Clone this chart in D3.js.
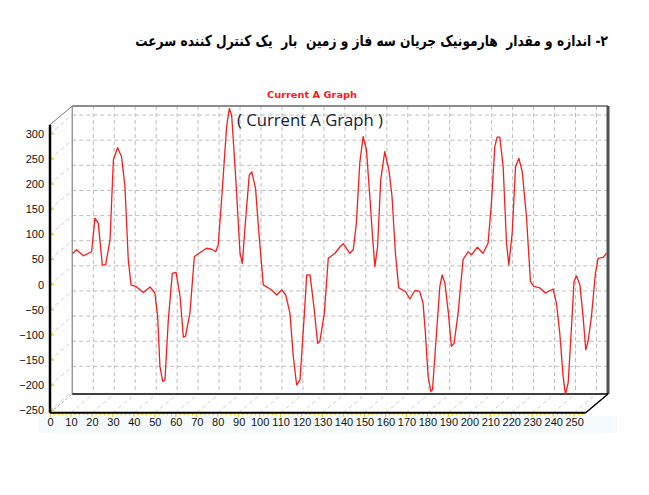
<!DOCTYPE html>
<html>
<head>
<meta charset="utf-8">
<script src="https://cdn.jsdelivr.net/npm/d3@7/dist/d3.min.js"></script>
<style>
  html, body { margin: 0; padding: 0; background: #ffffff; }
  svg { display: block; }
</style>
</head>
<body>
<svg id="chart" width="649" height="495"></svg>
<script>
// ---------- data ----------
const sampleIndex = [0, 2, 5.3, 9.2, 10.8, 12.4, 14.3, 15.9, 18, 19.6, 21.6, 23.5, 25.1, 26.7, 28, 30.7, 33.9, 37.1, 39.4, 40.7, 41.8, 43.1, 44.2, 45.8, 47.7, 49.5, 51.4, 53, 54, 56.1, 58.2, 60.1, 64, 66.5, 68.4, 69.6, 71.2, 73.6, 74.9, 76, 77.9, 80, 81.1, 82.4, 84.4, 85.6, 87.4, 89, 91.1, 95.1, 97.5, 99.9, 101.8, 103.8, 105.4, 107, 108.6, 110.7, 111.8, 113.4, 115.4, 117, 118.1, 120.2, 122.1, 125.3, 127.7, 129.2, 132.4, 134, 135.5, 137.1, 138.7, 140.3, 141.9, 143.2, 144.3, 145.6, 147.1, 149, 151, 152.5, 154.1, 155.7, 158.9, 161, 163.4, 165.7, 167.3, 168.4, 169.7, 171, 171.8, 173.7, 175.3, 176.4, 177.7, 179.3, 180.8, 182.1, 184, 186.4, 188.8, 190.4, 193.2, 195.9, 198.3, 199.9, 201.5, 202.6, 203.9, 205.5, 207.1, 208.2, 209.8, 211.4, 213, 214.6, 216.6, 218.5, 220.1, 223, 225.7, 229.3, 230.9, 232.5, 234.1, 235.2, 236.5, 238.1, 239.3, 240.5, 242.1, 243.6, 244.9, 246, 247.6, 249.5, 250.8, 253.2, 254.8];
const currentA = [24, 32, 20, 28, 95, 85, 2, 2, 52, 211, 235, 217, 158, 12, -38, -42, -53, -42, -54, -101, -200, -230, -227, -107, -15, -13, -61, -142, -140, -94, 18, 24, 35, 33, 28, 42, 131, 277, 313, 300, 178, 25, 5, 78, 181, 187, 154, 65, -38, -48, -58, -48, -58, -94, -180, -237, -227, -94, -18, -18, -87, -154, -150, -94, 15, 25, 38, 44, 25, 32, 85, 204, 257, 231, 138, 58, -1, 38, 171, 227, 191, 138, 25, -44, -51, -66, -49, -51, -74, -134, -220, -250, -246, -134, -41, -18, -34, -91, -160, -154, -94, 13, 28, 22, 37, 25, 45, 125, 237, 256, 256, 197, 45, 2, 65, 197, 214, 187, 98, -31, -41, -44, -54, -46, -74, -134, -220, -256, -233, -121, -31, -20, -38, -101, -167, -150, -101, -15, 15, 17, 25];
const yTicks = [-250, -200, -150, -100, -50, 0, 50, 100, 150, 200, 250, 300];
const xTicks = [0, 10, 20, 30, 40, 50, 60, 70, 80, 90, 100, 110, 120, 130, 140, 150, 160, 170, 180, 190, 200, 210, 220, 230, 240, 250];
const xMinorTicks = d3.range(0, 256, 2);
const chartTitle = "Current A Graph";
const chartCaption = "( Current A Graph )";
const pageHeading = "۲- اندازه و مقدار  هارمونیک جریان سه فاز و زمین  بار  یک کنترل کننده سرعت";

// ---------- scales ----------
const svg = d3.select("#chart");
const xDomain = [0, 255.5], yDomain = [-255, 318];
// back wall (where grid and series live)
const xB = d3.scaleLinear().domain(xDomain).range([72.3, 608]);
const yB = d3.scaleLinear().domain(yDomain).range([394, 106]);
// front plane (axes)
const xF = d3.scaleLinear().domain(xDomain).range([50, 585.7]);
const yF = d3.scaleLinear().domain(yDomain).range([412.7, 124.7]);

// label strip tint
svg.append("rect").attr("x", 38).attr("y", 416).attr("width", 579).attr("height", 17)
  .attr("fill", "#f5fafc");

// ---------- heading ----------
const headRight = 608, headWidth = 473;
const head = svg.append("text")
  .attr("x", headRight).attr("y", 46)
  .attr("direction", "rtl")
  .attr("text-anchor", "start")
  .style("white-space", "pre")
  .style("font-family", "'DejaVu Sans', Arial, sans-serif")
  .style("font-weight", "bold")
  .style("font-size", "15px")
  .attr("fill", "#000")
  .text(pageHeading);
const hb = head.node().getBBox();
if (hb.width > 0) {
  const k = headWidth / hb.width;
  const right = hb.x + hb.width;
  head.attr("transform", `translate(${headRight},0) scale(${k},1) translate(${-right},0)`);
}

// ---------- grid on back wall ----------
const grid = svg.append("g").attr("stroke", "#bdbdbd").attr("stroke-width", 1)
  .attr("stroke-dasharray", "4,3").attr("fill", "none");
grid.selectAll(".hg").data(yTicks.filter(v => v > -250)).enter().append("line")
  .attr("x1", xB(0)).attr("x2", xB(xDomain[1]))
  .attr("y1", d => yB(d)).attr("y2", d => yB(d));
grid.selectAll(".vg").data(xTicks.filter(v => v > 0)).enter().append("line")
  .attr("x1", d => xB(d)).attr("x2", d => xB(d))
  .attr("y1", yB(yDomain[1])).attr("y2", yB(yDomain[0]));
// left side wall diagonals
grid.selectAll(".sd").data(yTicks).enter().append("line")
  .attr("stroke", "#cfcfcf")
  .attr("x1", xF(0)).attr("y1", d => yF(d))
  .attr("x2", xB(0)).attr("y2", d => yB(d));
// floor diagonals
grid.selectAll(".fd").data(xTicks.filter(v => v > 0)).enter().append("line")
  .attr("stroke", "#cfcfcf")
  .attr("x1", d => xF(d)).attr("y1", yF(yDomain[0]))
  .attr("x2", d => xB(d)).attr("y2", yB(yDomain[0]));

// ---------- walls ----------
svg.append("line").attr("x1", xB(0)).attr("x2", xB(0)).attr("y1", yB(yDomain[1])).attr("y2", yB(yDomain[0]))
  .attr("stroke", "#9a9a9a").attr("stroke-width", 1.5);
svg.append("line").attr("x1", xB(0)).attr("x2", xB(xDomain[1])).attr("y1", yB(yDomain[1])).attr("y2", yB(yDomain[1]))
  .attr("stroke", "#8c8c8c").attr("stroke-width", 2);
svg.append("line").attr("x1", xB(xDomain[1])).attr("x2", xB(xDomain[1])).attr("y1", yB(yDomain[1])).attr("y2", yB(yDomain[0]))
  .attr("stroke", "#505050").attr("stroke-width", 3);
svg.append("line").attr("x1", xB(0)).attr("x2", xB(xDomain[1])).attr("y1", yB(yDomain[0])).attr("y2", yB(yDomain[0]))
  .attr("stroke", "#000").attr("stroke-width", 1.5);
// depth edges
svg.append("line").attr("x1", xF(0)).attr("y1", yF(yDomain[1])).attr("x2", xB(0)).attr("y2", yB(yDomain[1]))
  .attr("stroke", "#777").attr("stroke-width", 1);
svg.append("line").attr("x1", xF(0)).attr("y1", yF(yDomain[0])).attr("x2", xB(0)).attr("y2", yB(yDomain[0]))
  .attr("stroke", "#aaa").attr("stroke-width", 1).attr("stroke-dasharray", "3,2");
svg.append("line").attr("x1", xF(xDomain[1])).attr("y1", yF(yDomain[0])).attr("x2", xB(xDomain[1])).attr("y2", yB(yDomain[0]))
  .attr("stroke", "#000").attr("stroke-width", 1.5);

// ---------- series ----------
svg.append("clipPath").attr("id", "clipBack").append("rect")
  .attr("x", xB(0)).attr("y", yB(yDomain[1]) - 2).attr("width", xB(xDomain[1]) - xB(0)).attr("height", yB(yDomain[0]) - yB(yDomain[1]) + 2);
const pts = sampleIndex.map((x, i) => [x, currentA[i]]);
svg.append("path").datum(pts)
  .attr("clip-path", "url(#clipBack)")
  .attr("fill", "none").attr("stroke", "#ff1a1a").attr("stroke-width", 1.3)
  .attr("stroke-linejoin", "round")
  .attr("d", d3.line().x(d => xB(d[0])).y(d => yB(d[1])));

// ---------- front axes ----------
const yAxis = svg.append("g").attr("transform", `translate(${xF(0)},0)`)
  .call(d3.axisLeft(yF).tickValues(yTicks).tickSize(0).tickPadding(6));
yAxis.select(".domain").remove();
yAxis.selectAll("text").style("font-family", "'Liberation Sans', Arial, sans-serif").style("font-size", "11px").attr("fill", "#111");

const xAxis = svg.append("g").attr("transform", `translate(0,${yF(yDomain[0])})`)
  .call(d3.axisBottom(xF).tickValues(xTicks).tickSize(0).tickPadding(6));
xAxis.select(".domain").remove();
xAxis.selectAll("text").style("font-family", "'Liberation Sans', Arial, sans-serif").style("font-size", "11px").attr("fill", "#111");

// yellow ticks
svg.append("g").selectAll("line").data(yTicks).enter().append("line")
  .attr("x1", xF(0)).attr("x2", xF(0) + 4).attr("y1", d => yF(d)).attr("y2", d => yF(d))
  .attr("stroke", "#e8d800").attr("stroke-width", 1.5);
svg.append("g").selectAll("line").data(xMinorTicks).enter().append("line")
  .attr("x1", d => xF(d)).attr("x2", d => xF(d))
  .attr("y1", yF(yDomain[0])).attr("y2", d => yF(yDomain[0]) + (d % 10 === 0 ? 4 : 2.5))
  .attr("stroke", "#e8d800").attr("stroke-width", 1.2);

// axis lines
svg.append("line").attr("x1", xF(0)).attr("x2", xF(0)).attr("y1", yF(yDomain[1])).attr("y2", yF(yDomain[0]))
  .attr("stroke", "#000").attr("stroke-width", 2.5);
svg.append("line").attr("x1", xF(0)).attr("x2", xF(xDomain[1])).attr("y1", yF(yDomain[0])).attr("y2", yF(yDomain[0]))
  .attr("stroke", "#000").attr("stroke-width", 2);

// ---------- titles ----------
svg.append("text").attr("x", 312).attr("y", 98).attr("text-anchor", "middle")
  .style("font-family", "'DejaVu Sans', Verdana, sans-serif").style("font-weight", "bold").style("font-size", "8.5px")
  .attr("fill", "#ff1a1a").attr("textLength", 90).attr("lengthAdjust", "spacingAndGlyphs")
  .text(chartTitle);
svg.append("text").attr("x", 237).attr("y", 126)
  .style("font-family", "'Open Sans', 'Noto Sans', sans-serif").style("font-size", "16px")
  .attr("fill", "#121a38").attr("textLength", 146).attr("lengthAdjust", "spacingAndGlyphs")
  .text(chartCaption);
</script>
</body>
</html>
